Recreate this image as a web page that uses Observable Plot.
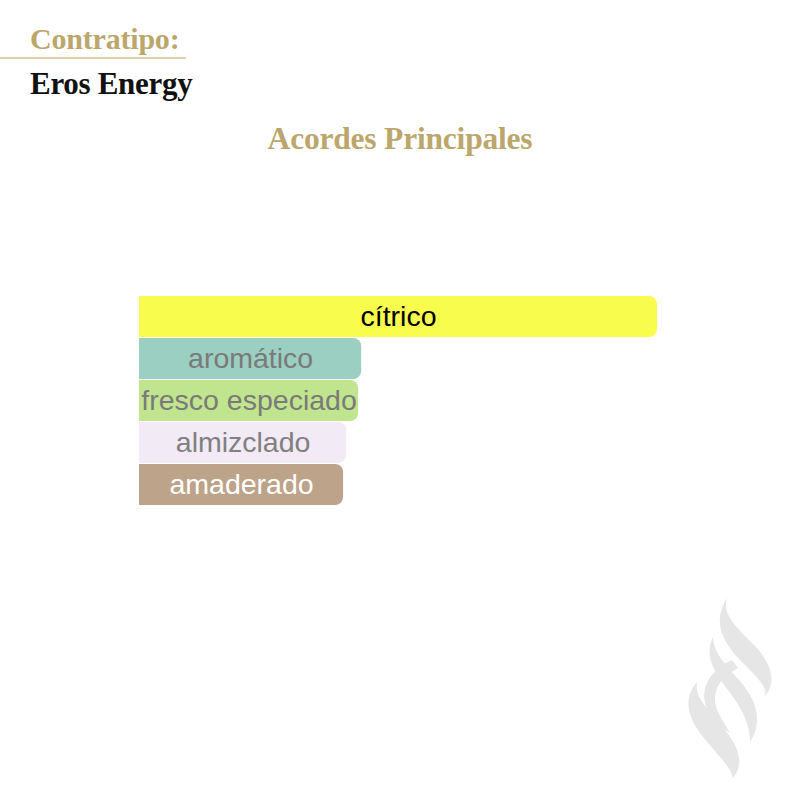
<!DOCTYPE html>
<html>
<head>
<meta charset="utf-8">
<script src="https://cdn.jsdelivr.net/npm/d3@7"></script>
<script src="https://cdn.jsdelivr.net/npm/@observablehq/plot@0.6"></script>
<style>
  html, body { margin: 0; padding: 0; background: #ffffff; }
  #page { position: relative; width: 800px; height: 800px; overflow: hidden; background: #fff; }
  .serif { font-family: "Liberation Serif", "DejaVu Serif", serif; font-weight: bold; position: absolute; white-space: nowrap; }
  #t1 { left: 30px; top: 22px; font-size: 30px; color: #bba76c; letter-spacing: -0.2px; }
  #rule { position: absolute; left: 0; top: 57px; width: 186px; height: 2px; background: #ddd0a8; }
  #t2 { left: 30px; top: 66px; font-size: 31px; color: #111; letter-spacing: -0.3px; }
  #t3 { left: 0; width: 800px; text-align: center; top: 121px; font-size: 31.5px; color: #bba76c; letter-spacing: -0.2px; }
  #chart { position: absolute; left: 0; top: 294px; }
  #logo { position: absolute; left: 0; top: 0; }
</style>
</head>
<body>
<div id="page">
  <div class="serif" id="t1">Contratipo:</div>
  <div id="rule"></div>
  <div class="serif" id="t2">Eros Energy</div>
  <div class="serif" id="t3">Acordes Principales</div>
  <div id="chart"></div>
  <svg id="logo" width="800" height="800" viewBox="0 0 800 800">
    <g fill="#e6e6e6">
      <path d="M727,598 C712,622 722,642 742,662 C760,680 770,690 763,698 C778,684 772,664 755,646 C735,626 722,614 727,598 Z"/>
      <path d="M713,637 C704,656 714,672 728,690 C742,708 750,724 750,742 C762,724 758,704 744,686 C728,666 714,656 713,637 Z"/>
      <path d="M732,660 C710,670 700,688 706,706 C710,718 720,726 730,733 C723,720 714,710 715,697 C716,683 726,675 738,668 Z"/>
      <path d="M697,682 C682,700 688,718 704,738 C720,758 730,766 733,778 C746,762 737,744 722,726 C706,706 695,698 697,682 Z"/>
    </g>
  </svg>
</div>
<script>
const accords = ["cítrico", "aromático", "fresco especiado", "almizclado", "amaderado"];
const values = [100, 42.9, 42.3, 40.0, 39.4];
const fills = ["#f8fd4d", "#9bcfc1", "#c1e58e", "#f2eaf4", "#bca38a"];
const textColors = ["#000000", "#7a7a7a", "#7a7a7a", "#808080", "#ffffff"];

const data = accords.map((a, i) => ({accord: a, value: values[i], fill: fills[i], text: textColors[i]}));

const chart = Plot.plot({
  width: 800,
  height: 212,
  marginLeft: 139,
  marginRight: 143,
  marginTop: 0,
  marginBottom: 0,
  x: {domain: [0, 100], axis: null},
  y: {domain: accords, axis: null, paddingInner: 0.025, paddingOuter: 0},
  style: {background: "transparent", overflow: "visible"},
  marks: [
    Plot.barX(data, {y: "accord", x: "value", fill: d => d.fill, rx: 8}),
    Plot.barX(data, {y: "accord", x1: 0, x2: d => d.value * 0.5, fill: d => d.fill}),
    Plot.text(data, {
      y: "accord",
      x: d => d.value / 2,
      text: "accord",
      fill: d => d.text,
      fontSize: 28.5,
      fontFamily: "Liberation Sans, Arial, sans-serif",
      textAnchor: "middle",
      dy: 0
    })
  ]
});
document.getElementById("chart").appendChild(chart);
</script>
</body>
</html>
